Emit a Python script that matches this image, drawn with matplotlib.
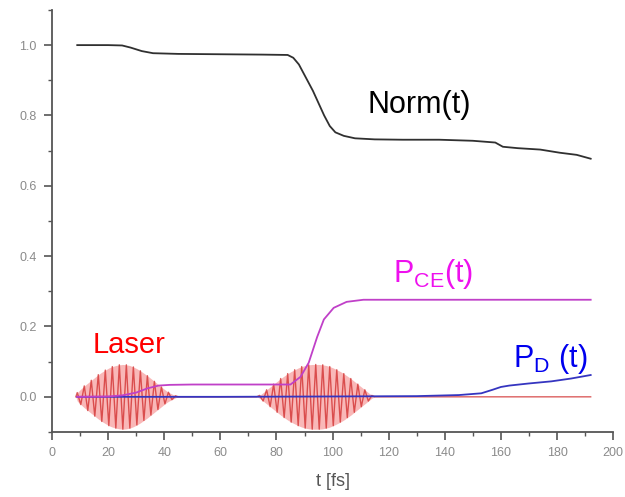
import numpy as np
import matplotlib
matplotlib.use("Agg")
import matplotlib.pyplot as plt
from matplotlib.ticker import MultipleLocator

plt.rcParams['font.family'] = ['Liberation Sans', 'DejaVu Sans']
plt.rcParams['mathtext.fontset'] = 'custom'
plt.rcParams['mathtext.rm'] = 'Liberation Sans'
plt.rcParams['mathtext.it'] = 'Liberation Sans'

# Norm(t)
norm_t = [9, 20, 25, 28, 32, 36, 45, 60, 75, 84, 86, 88, 91, 93, 95, 97, 99, 101, 104, 108,
          115, 125, 138, 150, 158, 160.7, 166, 174, 181, 187, 192]
norm_v = [1.0, 1.0, 0.999, 0.993, 0.983, 0.977, 0.975, 0.974, 0.973, 0.972, 0.964, 0.945, 0.90, 0.87,
          0.835, 0.80, 0.77, 0.752, 0.742, 0.735, 0.732, 0.731, 0.731, 0.728, 0.723, 0.711, 0.707,
          0.703, 0.694, 0.688, 0.677]

# P_CE(t)
pce_t = [9, 20, 25, 30, 34, 38, 42, 50, 70, 85, 88.6, 91.5, 94.5, 96.9, 100.4, 105, 111, 130, 160, 192]
pce_v = [0.0, 0.001, 0.004, 0.012, 0.024, 0.032, 0.034, 0.035, 0.035, 0.035, 0.057, 0.097, 0.17,
         0.22, 0.253, 0.27, 0.276, 0.276, 0.276, 0.276]

# P_D(t)
pd_t = [9, 60, 100, 130, 145, 153, 157, 160, 163, 170, 178, 185, 192]
pd_v = [0.0, 0.0, 0.001, 0.002, 0.005, 0.010, 0.020, 0.028, 0.032, 0.038, 0.044, 0.052, 0.062]

# laser field: half-cycle extremes of the two pulses, zero elsewhere
laser_t = [8.5,
           9.0, 10.25, 11.5, 12.75, 14.0, 15.25, 16.5, 17.75, 19.0, 20.25, 21.5, 22.75, 24.0, 25.25,
           26.5, 27.75, 29.0, 30.25, 31.5, 32.75, 34.0, 35.25, 36.5, 37.75, 39.0, 40.25, 41.5,
           42.75, 44.0,
           45.0, 73.0,
           74.0, 75.25, 76.5, 77.75, 79.0, 80.25, 81.5, 82.75, 84.0, 85.25, 86.5, 87.75, 89.0,
           90.25, 91.5, 92.75, 94.0, 95.25, 96.5, 97.75, 99.0, 100.25, 101.5, 102.75, 104.0,
           105.25, 106.5, 107.75, 109.0, 110.25, 111.5, 112.75, 114.0,
           115.0, 192.0]
laser_v = [0.0,
           0.012, -0.022, 0.031, -0.039, 0.047, -0.055, 0.063, -0.070, 0.076, -0.082, 0.086, -0.089,
           0.091, -0.092, 0.091, -0.089, 0.085, -0.080, 0.074, -0.067, 0.060, -0.052, 0.044,
           -0.036, 0.028, -0.020, 0.013, -0.008, 0.003,
           0.0, 0.0,
           0.004, -0.012, 0.020, -0.028, 0.036, -0.044, 0.052, -0.059, 0.066, -0.072, 0.077, -0.082,
           0.086, -0.089, 0.091, -0.092, 0.092, -0.092, 0.091, -0.089, 0.086, -0.082, 0.077,
           -0.072, 0.066, -0.059, 0.052, -0.044, 0.036, -0.028, 0.020, -0.012, 0.004,
           0.0, 0.0]

fig = plt.figure(figsize=(6.25, 4.97), dpi=100)
ax = fig.add_axes([0.0832, 0.1308, 0.8978, 0.8492])

# pink body of the pulses (envelope), then the darker field lines on top
env = np.abs(laser_v)
ax.fill_between(laser_t, env, -env, color='#f68a8a', alpha=0.6, lw=0)
ax.plot(laser_t, laser_v, color='#d02a2a', lw=1.0, alpha=0.75)
ax.plot(pd_t, pd_v, color='#3535c0', lw=1.3)
ax.plot(pce_t, pce_v, color='#c040c8', lw=1.3)
ax.plot(norm_t, norm_v, color='#303030', lw=1.3)

ax.text(112.3, 0.808, 'Norm(t)', fontsize=22, color='black', ha='left', va='baseline')
ax.text(14.6, 0.125, 'Laser', fontsize=21, color='#ff0000', ha='left', va='baseline')
ax.text(121.6, 0.327, r'P$_{\mathrm{CE}}$(t)', fontsize=22, color='#ee10ee', ha='left', va='baseline')
ax.text(164.3, 0.085, r'P$_{\mathrm{D}}$ (t)', fontsize=22, color='#0000ee', ha='left', va='baseline')

ax.set_xlim(0, 200)
ax.set_ylim(-0.1, 1.1)
ax.xaxis.set_major_locator(MultipleLocator(20))
ax.xaxis.set_minor_locator(MultipleLocator(10))
ax.yaxis.set_major_locator(MultipleLocator(0.2))
ax.yaxis.set_minor_locator(MultipleLocator(0.1))
ax.yaxis.set_major_formatter(matplotlib.ticker.FormatStrFormatter('%.1f'))

for s in ['top', 'right']:
    ax.spines[s].set_visible(False)
for s in ['left', 'bottom']:
    ax.spines[s].set_color('#555555')
    ax.spines[s].set_linewidth(1.3)

ax.tick_params(which='major', direction='out', length=6, width=1.2, color='#555555',
               labelsize=9, labelcolor='#8a8a8a', pad=5)
ax.tick_params(which='minor', direction='out', length=3, width=1.0, color='#555555')

ax.set_xlabel('t [fs]', fontsize=13, color='#555555', labelpad=10)

fig.savefig('out.png', dpi=100)
